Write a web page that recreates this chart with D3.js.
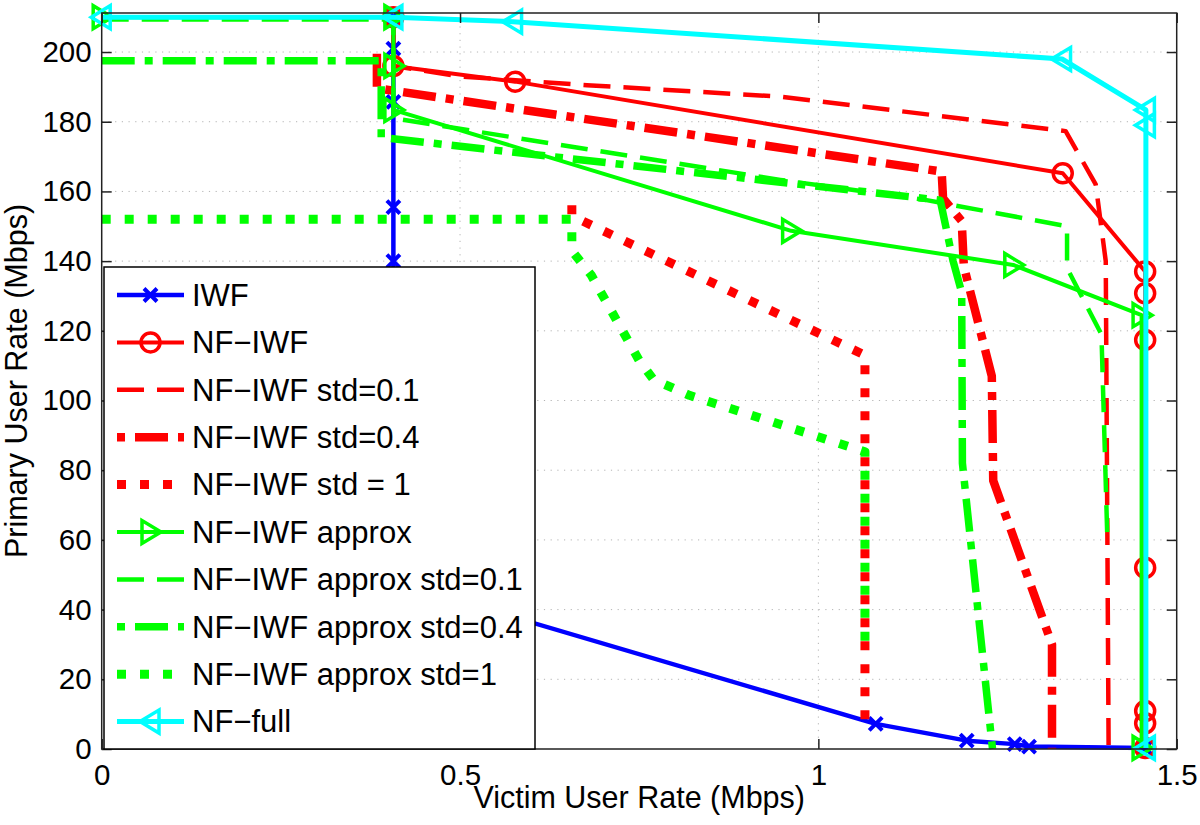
<!DOCTYPE html>
<html>
<head>
<meta charset="utf-8">
<script src="https://cdn.jsdelivr.net/npm/d3@7"></script>
<style>
body { margin: 0; background: #fff; }
text { font-family: "Liberation Sans", Arial, Helvetica, sans-serif; fill: #000; }
</style>
</head>
<body>
<script>
// points: [victim rate, primary rate]
var iwf = [[0.407,210],[0.407,201],[0.407,185.7],[0.407,155.5],[0.407,140],[0.407,95],[0.407,48],
           [1.08,7.2],[1.207,2.4],[1.274,1.4],[1.294,0.7],[1.456,0.3]];
var nfIwf = [[0.407,210],[0.407,196],[0.577,191.5],[1.341,165.2],[1.456,137],[1.456,130.8],
             [1.456,117.4],[1.456,52],[1.456,10.9],[1.456,7.4],[1.456,0.3]];
var nfIwf01 = [[0.407,210],[0.407,196],[0.5,193],[0.677,190.5],[0.947,187.2],[1.345,177.3],
               [1.387,162],[1.401,140],[1.405,0]];
var nfIwf04 = [[0.384,199.5],[0.384,189.6],[1.172,165.7],[1.174,158],[1.2,151.5],[1.203,138.5],
               [1.242,107],[1.244,77],[1.326,30],[1.326,0]];
var nfIwf1 = [[0.656,156],[0.656,153],[1.065,113],[1.065,7.5]];
var approx = [[0,210],[0.407,210],[0.407,196],[0.407,183.4],[0.962,148.7],[1.272,138.9],
              [1.451,124.5],[1.451,0.3]];
var approx01 = [[0,209.3],[0.407,209.3],[0.407,181],[0.947,163.3],[1.151,157.5],[1.347,150],
                [1.347,138],[1.395,119],[1.403,62]];
var approx04 = [[0,197.5],[0.39,197.5],[0.39,175.5],[1.17,157.5],[1.188,140],[1.2,131],
                [1.201,82],[1.243,0]];
var approx1 = [[0,152],[0.656,152],[0.656,143],[0.683,136],[0.75,111.5],[0.77,106],[0.82,101.5],
               [1.065,85.3],[1.065,30]];
var nfFull = [[0,210],[0.407,210],[0.574,208.7],[1.34,198],[1.457,183.4],[1.457,179],[1.457,0.3]];

var seriesNames = ["IWF", "NF\u2212IWF", "NF\u2212IWF std=0.1", "NF\u2212IWF std=0.4", "NF\u2212IWF std = 1",
                   "NF\u2212IWF approx", "NF\u2212IWF approx std=0.1", "NF\u2212IWF approx std=0.4",
                   "NF\u2212IWF approx std=1", "NF\u2212full"];
var seriesData = [iwf, nfIwf, nfIwf01, nfIwf04, nfIwf1, approx, approx01, approx04, approx1, nfFull];

var xTicks = [0, 0.5, 1, 1.5];
var yTicks = [0, 20, 40, 60, 80, 100, 120, 140, 160, 180, 200];

// look of each series
var styles = [
    {color: "#0000ff", width: 4.5, dash: null,          marker: "x"},
    {color: "#ff0000", width: 4,   dash: null,          marker: "o"},
    {color: "#ff0000", width: 4.5, dash: "27,13",       marker: null},
    {color: "#ff0000", width: 8.5, dash: "33,10,8,10",  marker: null},
    {color: "#ff0000", width: 9,   dash: "9,14",        marker: null},
    {color: "#00ff00", width: 4,   dash: null,          marker: ">"},
    {color: "#00ff00", width: 4.5, dash: "27,13",       marker: null},
    {color: "#00ff00", width: 7.5, dash: "33,10,8,10",  marker: null},
    {color: "#00ff00", width: 9,   dash: "9,14",        marker: null},
    {color: "#00ffff", width: 5,   dash: null,          marker: "<"}
];

var W = 1200, H = 825;
var plotL = 101.7, plotR = 1176.7, plotT = 13, plotB = 749;

var svg = d3.select("body").append("svg")
    .attr("width", W)
    .attr("height", H);

var x = d3.scaleLinear().domain([0, 1.5]).range([plotL, plotR]);
var y = d3.scaleLinear().domain([0, 211.2]).range([plotB, plotT]);

// dotted grid
var grid = svg.append("g").attr("stroke", "#b4b4b4").attr("stroke-width", 1).attr("stroke-dasharray", "1.2,5.5");
grid.selectAll("line.gy").data(yTicks.slice(1)).enter().append("line")
    .attr("x1", plotL).attr("x2", plotR)
    .attr("y1", function(d){ return y(d); }).attr("y2", function(d){ return y(d); });
grid.selectAll("line.gx").data(xTicks.slice(1, 3)).enter().append("line")
    .attr("y1", plotT).attr("y2", plotB)
    .attr("x1", function(d){ return x(d); }).attr("x2", function(d){ return x(d); });

// series lines
var line = d3.line().x(function(d){ return x(d[0]); }).y(function(d){ return y(d[1]); });

function drawMarker(g, type, color, cx, cy) {
    if (type == "x") {
        var s = 6.5;
        g.append("path")
            .attr("d", "M" + (cx-s) + "," + (cy-s) + "L" + (cx+s) + "," + (cy+s) + "M" + (cx-s) + "," + (cy+s) + "L" + (cx+s) + "," + (cy-s))
            .attr("stroke", color).attr("stroke-width", 4).attr("fill", "none");
    } else if (type == "o") {
        g.append("circle").attr("cx", cx).attr("cy", cy).attr("r", 9.5)
            .attr("stroke", color).attr("stroke-width", 3.5).attr("fill", "none");
    } else if (type == ">") {
        g.append("path")
            .attr("d", "M" + (cx+10.5) + "," + cy + "L" + (cx-8.5) + "," + (cy-11.5) + "L" + (cx-8.5) + "," + (cy+11.5) + "Z")
            .attr("stroke", color).attr("stroke-width", 3.5).attr("fill", "none").attr("stroke-linejoin", "miter");
    } else if (type == "<") {
        g.append("path")
            .attr("d", "M" + (cx-10.5) + "," + cy + "L" + (cx+8.5) + "," + (cy-11.5) + "L" + (cx+8.5) + "," + (cy+11.5) + "Z")
            .attr("stroke", color).attr("stroke-width", 3.5).attr("fill", "none").attr("stroke-linejoin", "miter");
    }
}

seriesData.forEach(function(pts, i) {
    var st = styles[i];
    var g = svg.append("g");
    g.append("path")
        .datum(pts)
        .attr("d", line)
        .attr("fill", "none")
        .attr("stroke", st.color)
        .attr("stroke-width", st.width)
        .attr("stroke-linejoin", "round")
        .attr("stroke-linecap", "butt")
        .attr("stroke-dasharray", st.dash);
    if (st.marker) {
        pts.forEach(function(p) {
            drawMarker(g, st.marker, st.color, x(p[0]), y(p[1]));
        });
    }
});

// axes with inward ticks
var axisColor = "#222";
var fontSize = 29.5;

var gL = svg.append("g").attr("transform", "translate(" + plotL + ",0)")
    .call(d3.axisLeft(y).tickValues(yTicks).tickSize(-10).tickPadding(10));
var gR = svg.append("g").attr("transform", "translate(" + plotR + ",0)")
    .call(d3.axisRight(y).tickValues(yTicks).tickSize(-10).tickFormat(""));
var gB = svg.append("g").attr("transform", "translate(0," + plotB + ")")
    .call(d3.axisBottom(x).tickValues(xTicks).tickSize(-10).tickPadding(15).tickFormat(d3.format("")));
var gT = svg.append("g").attr("transform", "translate(0," + plotT + ")")
    .call(d3.axisTop(x).tickValues(xTicks).tickSize(-10).tickFormat(""));

[gL, gR, gB, gT].forEach(function(g) {
    g.select(".domain").remove();
    g.selectAll(".tick line").attr("stroke", axisColor).attr("stroke-width", 1.5);
    g.selectAll(".tick text").attr("font-size", fontSize).attr("font-family", null).attr("fill", "#000");
});

svg.append("rect")
    .attr("x", plotL).attr("y", plotT)
    .attr("width", plotR - plotL).attr("height", plotB - plotT)
    .attr("fill", "none").attr("stroke", axisColor).attr("stroke-width", 1.5);

// axis titles
svg.append("text")
    .attr("x", (plotL + plotR) / 2).attr("y", 808)
    .attr("text-anchor", "middle").attr("font-size", 30.5)
    .text("Victim User Rate (Mbps)");
svg.append("text")
    .attr("transform", "translate(27," + ((plotT + plotB) / 2) + ") rotate(-90)")
    .attr("text-anchor", "middle").attr("font-size", 30.5)
    .text("Primary User Rate (Mbps)");

// legend
var lg = svg.append("g");
lg.append("rect")
    .attr("x", 104).attr("y", 267).attr("width", 431).attr("height", 482)
    .attr("fill", "#fff").attr("stroke", "#000").attr("stroke-width", 1.5);

seriesNames.forEach(function(name, i) {
    var st = styles[i];
    var ly = 295 + i * 47.4;
    lg.append("line")
        .attr("x1", 117).attr("x2", 184).attr("y1", ly).attr("y2", ly)
        .attr("stroke", st.color).attr("stroke-width", st.width)
        .attr("stroke-linecap", "butt")
        .attr("stroke-dasharray", st.dash)
        .attr("stroke-dashoffset", st.dash == "33,10,8,10" ? 43 : 0);
    if (st.marker) drawMarker(lg, st.marker, st.color, 150.5, ly);
    lg.append("text")
        .attr("x", 192).attr("y", ly).attr("dy", "0.35em")
        .attr("font-size", 31)
        .text(name);
});
</script>
</body>
</html>
